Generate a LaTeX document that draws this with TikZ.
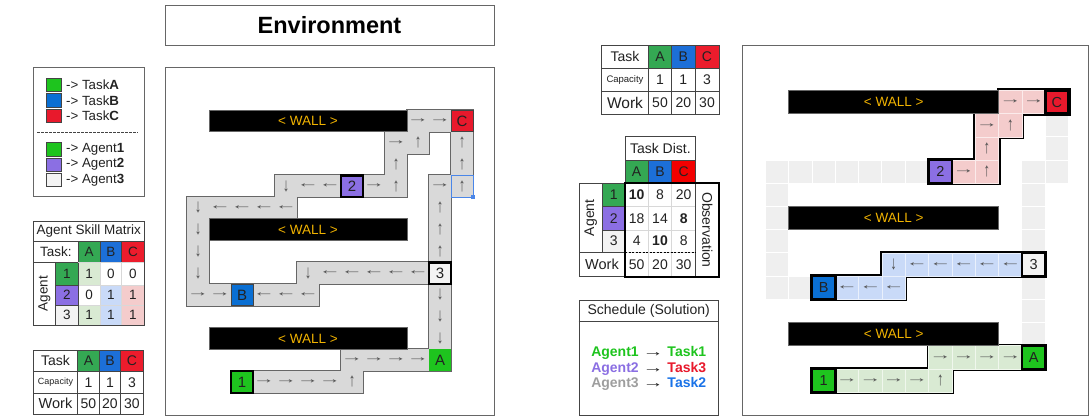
\documentclass[tikz,border=0pt]{standalone}
\usepackage{fontspec}
\usepackage{graphicx}
\setmainfont{Liberation Sans}
\definecolor{txt}{HTML}{222222}
\definecolor{bord}{HTML}{666666}
\definecolor{tline}{HTML}{444444}
\definecolor{lline}{HTML}{D8D8D8}
\definecolor{tA}{HTML}{1EC41E}
\definecolor{tB}{HTML}{0A6FD3}
\definecolor{tC}{HTML}{E8192C}
\definecolor{agP}{HTML}{8B6FE3}
\definecolor{agW}{HTML}{F3F3F3}
\definecolor{hA}{HTML}{34A853}
\definecolor{hB}{HTML}{1C6FD8}
\definecolor{hC}{HTML}{EC1C2C}
\definecolor{lg}{HTML}{D9EAD3}
\definecolor{lb}{HTML}{C9DAF8}
\definecolor{lp}{HTML}{F4CCCC}
\definecolor{pathg}{HTML}{D9D9D9}
\definecolor{pathedge}{HTML}{666666}
\definecolor{freeg}{HTML}{EFEFEF}
\definecolor{wallt}{HTML}{F1B300}
\definecolor{arr}{HTML}{505050}
\definecolor{selb}{HTML}{4A86E8}
\definecolor{schG}{HTML}{9E9E9E}
\definecolor{schB}{HTML}{1A73E8}
\newcommand\fsz[1]{\fontsize{#1}{#1}\selectfont}
\newcommand\aR{\scalebox{1.7}[1]{→}}
\newcommand\aL{\scalebox{1.7}[1]{←}}
\newcommand\aU{\scalebox{1}[1.45]{↑}}
\newcommand\aD{\scalebox{1}[1.45]{↓}}
\newcommand\tcell[8]{%
  \filldraw[draw=tline,fill=white,line width=0.7pt,#6] (#2,#3) rectangle (#4,#5);
  \node[tnode,#7] (#1) at ({(#2+#4)/2},{(#3+#5)/2}) {#8};}
\def\Lcells{11/0,12/0,13/0,10/1,11/1,13/1,10/2,13/2,5/3,6/3,7/3,8/3,9/3,10/3,12/3,13/3,1/4,2/4,3/4,4/4,5/4,12/4,1/5,12/5,1/6,12/6,1/7,6/7,7/7,8/7,9/7,10/7,11/7,12/7,1/8,2/8,3/8,4/8,5/8,6/8,12/8,12/9,12/10,8/11,9/11,10/11,11/11,12/11,3/12,4/12,5/12,6/12,7/12,8/12}
\def\Larrows{11/0/\aR,12/0/\aR,10/1/\aR,11/1/\aU,13/1/\aU,10/2/\aU,13/2/\aU,5/3/\aD,6/3/\aL,7/3/\aL,9/3/\aR,10/3/\aU,12/3/\aR,13/3/\aU,1/4/\aD,2/4/\aL,3/4/\aL,4/4/\aL,5/4/\aL,12/4/\aU,1/5/\aD,12/5/\aU,1/6/\aD,12/6/\aU,1/7/\aD,6/7/\aD,7/7/\aL,8/7/\aL,9/7/\aL,10/7/\aL,11/7/\aL,1/8/\aR,2/8/\aR,4/8/\aL,5/8/\aL,6/8/\aL,12/8/\aD,12/9/\aD,12/10/\aD,8/11/\aR,9/11/\aR,10/11/\aR,11/11/\aR,4/12/\aR,5/12/\aR,6/12/\aR,7/12/\aR,8/12/\aU}
\def\Rfree{13/1,13/2,1/3,2/3,3/3,4/3,5/3,6/3,7/3,12/3,13/3,1/4,12/4,1/5,12/5,1/6,12/6,1/7,1/8,2/8,12/8,12/9,12/10}
\def\Rpink{11/0,12/0,13/0,10/1,11/1,10/2,8/3,9/3,10/3}
\def\Rblue{6/7,7/7,8/7,9/7,10/7,11/7,12/7,3/8,4/8,5/8,6/8}
\def\Rgreen{8/11,9/11,10/11,11/11,12/11,3/12,4/12,5/12,6/12,7/12,8/12}
\def\Rarrows{11/0/\aR,12/0/\aR,10/1/\aR,11/1/\aU,10/2/\aU,9/3/\aR,10/3/\aU,6/7/\aD,7/7/\aL,8/7/\aL,9/7/\aL,10/7/\aL,11/7/\aL,4/8/\aL,5/8/\aL,6/8/\aL,8/11/\aR,9/11/\aR,10/11/\aR,11/11/\aR,4/12/\aR,5/12/\aR,6/12/\aR,7/12/\aR,8/12/\aU}
\begin{document}
\begin{tikzpicture}[x=1pt,y=-1pt,
  tnode/.style={inner sep=0pt,font=\fsz{13.5},text=txt},
  arrowglyph/.style={inner sep=0pt,font=\fsz{13},text=arr},
  lspec/.style={minimum width=22pt,minimum height=21.75pt,inner sep=0pt,font=\fsz{15},text=txt},
  rspec/.style={minimum width=23.33pt,minimum height=23.2pt,inner sep=0pt,font=\fsz{14.5},text=txt,draw=black,line width=2.5pt},
  lwall/.style={fill=black,draw=bord,line width=0.6pt,text=wallt,font=\fsz{13.5},minimum width=198pt,minimum height=21.75pt,inner sep=0pt},
  rwall/.style={fill=black,draw=bord,line width=0.6pt,text=wallt,font=\fsz{13.5},minimum width=210pt,minimum height=23.2pt,inner sep=0pt},
  legsq/.style={draw=tline,line width=0.6pt,minimum width=15pt,minimum height=13.5pt,inner sep=0pt},
  legtx/.style={anchor=west,inner sep=0pt,font=\fsz{13.3},text=txt}]
\useasboundingbox (0,0) rectangle (1091,417);
\fill[white] (0,0) rectangle (1091,417);

% ---------- title ----------
\node[draw=bord,line width=0.8pt,minimum width=329pt,minimum height=40pt,inner sep=0pt,font=\fsz{23.5}\bfseries,text=black] (title) at (329.5,25) {Environment};

% ---------- legend ----------
\node[draw=bord,line width=0.8pt,minimum width=111pt,minimum height=129pt,inner sep=0pt] (legend) at (88.5,131.5) {};
\node[legsq,fill=tA] (lgA) at (53.5,85) {};
\node[legtx] (lgAt) at (66,85) {-> Task\textbf{A}};
\node[legsq,fill=tB] (lgB) at (53.5,100.5) {};
\node[legtx] (lgBt) at (66,100.5) {-> Task\textbf{B}};
\node[legsq,fill=tC] (lgC) at (53.5,116) {};
\node[legtx] (lgCt) at (66,116) {-> Task\textbf{C}};
\draw[tline,line width=0.8pt,dash pattern=on 2.5pt off 1.5pt] (37,132.7) -- (138,132.7);
\node[legsq,fill=tA] (lg1) at (53.5,149.3) {};
\node[legtx] (lg1t) at (66,149.3) {-> Agent\textbf{1}};
\node[legsq,fill=agP] (lg2) at (53.5,164.6) {};
\node[legtx] (lg2t) at (66,164.6) {-> Agent\textbf{2}};
\node[legsq,fill=agW] (lg3) at (53.5,180) {};
\node[legtx] (lg3t) at (66,180) {-> Agent\textbf{3}};

% ---------- agent skill matrix ----------
\tcell{smT}{33.3}{221.7}{144.3}{241}{}{}{Agent Skill Matrix}
\tcell{smTask}{33.3}{241}{78.3}{262.7}{}{}{Task:}
\tcell{smA}{78.3}{241}{100}{262.7}{fill=hA}{}{A}
\tcell{smB}{100}{241}{121.7}{262.7}{fill=hB}{}{B}
\tcell{smC}{121.7}{241}{144.3}{262.7}{fill=hC}{}{C}
\tcell{smAg}{33.3}{262.7}{55.7}{325}{}{rotate=90}{Agent}
\tcell{sm1}{55.7}{262.7}{78.3}{285}{fill=hA}{}{1}
\tcell{sm2}{55.7}{285}{78.3}{305}{fill=agP}{}{2}
\tcell{sm3}{55.7}{305}{78.3}{325}{fill=agW}{}{3}
\tcell{sm1A}{78.3}{262.7}{100}{285}{fill=lg,draw=lline}{}{1}
\tcell{sm1B}{100}{262.7}{121.7}{285}{draw=lline}{}{0}
\tcell{sm1C}{121.7}{262.7}{144.3}{285}{draw=lline}{}{0}
\tcell{sm2A}{78.3}{285}{100}{305}{draw=lline}{}{0}
\tcell{sm2B}{100}{285}{121.7}{305}{fill=lb,draw=lline}{}{1}
\tcell{sm2C}{121.7}{285}{144.3}{305}{fill=lp,draw=lline}{}{1}
\tcell{sm3A}{78.3}{305}{100}{325}{fill=lg,draw=lline}{}{1}
\tcell{sm3B}{100}{305}{121.7}{325}{fill=lb,draw=lline}{}{1}
\tcell{sm3C}{121.7}{305}{144.3}{325}{fill=lp,draw=lline}{}{1}
\draw[tline,line width=0.7pt] (78.3,262.7) -- (78.3,325);
\draw[tline,line width=0.7pt] (33.3,221.7) rectangle (144.3,325);

% ---------- left task table ----------
\tcell{ltT}{33.3}{350}{77.7}{371.7}{}{font=\fsz{14}}{Task}
\tcell{ltA}{77.7}{350}{99.3}{371.7}{fill=hA}{font=\fsz{14}}{A}
\tcell{ltB}{99.3}{350}{120.7}{371.7}{fill=hB}{font=\fsz{14}}{B}
\tcell{ltC}{120.7}{350}{143.3}{371.7}{fill=hC}{font=\fsz{14}}{C}
\tcell{ltCap}{33.3}{371.7}{77.7}{393.3}{}{font=\fsz{9}}{Capacity}
\tcell{ltCa}{77.7}{371.7}{99.3}{393.3}{}{font=\fsz{14}}{1}
\tcell{ltCb}{99.3}{371.7}{120.7}{393.3}{}{font=\fsz{14}}{1}
\tcell{ltCc}{120.7}{371.7}{143.3}{393.3}{}{font=\fsz{14}}{3}
\tcell{ltW}{33.3}{393.3}{77.7}{414}{}{font=\fsz{14.5}}{Work}
\tcell{ltWa}{77.7}{393.3}{99.3}{414}{}{font=\fsz{14}}{50}
\tcell{ltWb}{99.3}{393.3}{120.7}{414}{}{font=\fsz{14}}{20}
\tcell{ltWc}{120.7}{393.3}{143.3}{414}{}{font=\fsz{14}}{30}

% ---------- right task table ----------
\tcell{rtT}{601.7}{45}{648.3}{68.3}{}{font=\fsz{14}}{Task}
\tcell{rtA}{648.3}{45}{671.7}{68.3}{fill=hA}{font=\fsz{14}}{A}
\tcell{rtB}{671.7}{45}{695}{68.3}{fill=hB}{font=\fsz{14}}{B}
\tcell{rtC}{695}{45}{719}{68.3}{fill=hC}{font=\fsz{14}}{C}
\tcell{rtCap}{601.7}{68.3}{648.3}{91}{}{font=\fsz{9.5}}{Capacity}
\tcell{rtCa}{648.3}{68.3}{671.7}{91}{}{font=\fsz{14}}{1}
\tcell{rtCb}{671.7}{68.3}{695}{91}{}{font=\fsz{14}}{1}
\tcell{rtCc}{695}{68.3}{719}{91}{}{font=\fsz{14}}{3}
\tcell{rtW}{601.7}{91}{648.3}{114}{}{font=\fsz{15.5}}{Work}
\tcell{rtWa}{648.3}{91}{671.7}{114}{}{font=\fsz{14}}{50}
\tcell{rtWb}{671.7}{91}{695}{114}{}{font=\fsz{14}}{20}
\tcell{rtWc}{695}{91}{719}{114}{}{font=\fsz{14}}{30}

% ---------- task distribution ----------
\tcell{tdT}{625}{136.7}{695.7}{160.7}{}{font=\fsz{14}}{Task Dist.}
\tcell{tdA}{625}{160.7}{648.3}{183.3}{fill=hA}{font=\fsz{14}}{A}
\tcell{tdB}{648.3}{160.7}{671.7}{183.3}{fill=hB}{font=\fsz{14}}{B}
\tcell{tdC}{671.7}{160.7}{695.7}{183.3}{fill=red!95!black}{font=\fsz{14}}{C}
\tcell{tdAg}{579}{183.3}{602.3}{252.3}{}{rotate=90,font=\fsz{14}}{Agent}
\tcell{td1}{602.3}{183.3}{625}{206.7}{fill=hA}{font=\fsz{14}}{1}
\tcell{td2}{602.3}{206.7}{625}{230}{fill=agP}{font=\fsz{14}}{2}
\tcell{td3}{602.3}{230}{625}{252.3}{fill=agW}{font=\fsz{14}}{3}
\tcell{tdW}{579}{252.3}{625}{276.7}{}{font=\fsz{14.5}}{Work}
\tcell{td1A}{625}{183.3}{648.3}{206.7}{draw=lline}{font=\fsz{14}}{\textbf{10}}
\tcell{td1B}{648.3}{183.3}{671.7}{206.7}{draw=lline}{font=\fsz{14}}{8}
\tcell{td1C}{671.7}{183.3}{695.7}{206.7}{draw=lline}{font=\fsz{14}}{20}
\tcell{td2A}{625}{206.7}{648.3}{230}{draw=lline}{font=\fsz{14}}{18}
\tcell{td2B}{648.3}{206.7}{671.7}{230}{draw=lline}{font=\fsz{14}}{14}
\tcell{td2C}{671.7}{206.7}{695.7}{230}{draw=lline}{font=\fsz{14}}{\textbf{8}}
\tcell{td3A}{625}{230}{648.3}{252.3}{draw=lline}{font=\fsz{14}}{4}
\tcell{td3B}{648.3}{230}{671.7}{252.3}{draw=lline}{font=\fsz{14}}{\textbf{10}}
\tcell{td3C}{671.7}{230}{695.7}{252.3}{draw=lline}{font=\fsz{14}}{8}
\tcell{tdWA}{625}{252.3}{648.3}{276.7}{draw=lline}{font=\fsz{14}}{50}
\tcell{tdWB}{648.3}{252.3}{671.7}{276.7}{draw=lline}{font=\fsz{14}}{20}
\tcell{tdWC}{671.7}{252.3}{695.7}{276.7}{draw=lline}{font=\fsz{14}}{30}
\tcell{tdObs}{695.7}{183.3}{719}{276.7}{}{rotate=-90,font=\fsz{14}}{Observation}
\draw[black,line width=0.7pt,dash pattern=on 2pt off 1.5pt] (625,252.3) -- (695.7,252.3);
\draw[tline,line width=0.7pt] (579,183.3) rectangle (719,276.7);
\draw[black,line width=2.2pt] (625,183.3) rectangle (719,276.7);

% ---------- schedule ----------
\node[draw=tline,line width=0.8pt,minimum width=139.3pt,minimum height=115.7pt,inner sep=0pt] (sched) at (648.65,357.85) {};
\draw[tline,line width=0.8pt] (sched.west |- 0,321.7) -- (sched.east |- 0,321.7);
\node[tnode,font=\fsz{14}] (schT) at (648.7,311) {Schedule (Solution)};
\node[tnode,font=\fsz{14}] (sch1) at (648.7,353.3) {\textbf{\textcolor{tA}{Agent1}} \scalebox{1.5}[1]{→} \textbf{\textcolor{tA}{Task1}}};
\node[tnode,font=\fsz{14}] (sch2) at (648.7,369) {\textbf{\textcolor{agP}{Agent2}} \scalebox{1.5}[1]{→} \textbf{\textcolor{tC}{Task3}}};
\node[tnode,font=\fsz{14}] (sch3) at (648.7,384.3) {\textbf{\textcolor{schG}{Agent3}} \scalebox{1.5}[1]{→} \textbf{\textcolor{schB}{Task2}}};

% ---------- left environment ----------
\node[draw=bord,line width=0.8pt,minimum width=329pt,minimum height=348pt,inner sep=0pt] (envL) at (329.5,241) {};
\begin{scope}[xshift=165pt,yshift=-110pt,x=22pt,y=-21.75pt]
\foreach \cc/\rr in \Lcells {\draw[pathedge,line width=2pt] (\cc,\rr) rectangle ++(1,1);}
\foreach \cc/\rr in \Lcells {\fill[pathg] (\cc,\rr) rectangle ++(1,1);}
\node[lspec,fill=tC,draw=tline,line width=0.8pt] (LC) at (13.5,0.5) {C};
\node[lspec,fill=agP,draw=black,line width=2.5pt] (L2) at (8.5,3.5) {2};
\node[lspec,fill=agW,draw=black,line width=2.5pt] (L3) at (12.5,7.5) {3};
\node[lspec,fill=tB,draw=tline,line width=0.8pt] (LB) at (3.5,8.5) {B};
\node[lspec,fill=tA] (LA) at (12.5,11.5) {A};
\node[lspec,fill=tA,draw=black,line width=2.5pt] (L1) at (3.5,12.5) {1};
\draw[selb,line width=0.8pt] (13,3) rectangle (14,4);
\fill[selb] (14,4) ++(-2pt,-2pt) rectangle ++(4pt,4pt);
\foreach \cc/\rr/\g in \Larrows {\node[arrowglyph] (La\cc-\rr) at (\cc+0.5,\rr+0.5) {\g};}
\node[lwall] (LW1) at (6.5,0.5) {< WALL >};
\node[lwall] (LW2) at (6.5,5.5) {< WALL >};
\node[lwall] (LW3) at (6.5,10.5) {< WALL >};
\end{scope}

% ---------- right environment ----------
\node[draw=bord,line width=0.8pt,minimum width=346pt,minimum height=370pt,inner sep=0pt] (envR) at (915,230) {};
\begin{scope}[xshift=742pt,yshift=-90.5pt,x=23.33pt,y=-23.2pt]
\foreach \cc/\rr in \Rfree {\filldraw[fill=freeg,draw=white,line width=1pt] (\cc,\rr) rectangle ++(1,1);}
\foreach \cc/\rr in \Rpink {\draw[black,line width=4pt] (\cc,\rr) rectangle ++(1,1);}
\foreach \cc/\rr in \Rblue {\draw[black,line width=4pt] (\cc,\rr) rectangle ++(1,1);}
\foreach \cc/\rr in \Rgreen {\draw[black,line width=4pt] (\cc,\rr) rectangle ++(1,1);}
\foreach \cc/\rr in \Rpink {\filldraw[fill=lp,draw=white!60!lp,line width=0.7pt] (\cc,\rr) rectangle ++(1,1);}
\foreach \cc/\rr in \Rblue {\filldraw[fill=lb,draw=white!60!lb,line width=0.7pt] (\cc,\rr) rectangle ++(1,1);}
\foreach \cc/\rr in \Rgreen {\filldraw[fill=lg,draw=white!60!lg,line width=0.7pt] (\cc,\rr) rectangle ++(1,1);}
\node[rspec,fill=tC] (RC) at (13.5,0.5) {C};
\node[rspec,fill=agP] (R2) at (8.5,3.5) {2};
\node[rspec,fill=agW] (R3) at (12.5,7.5) {3};
\node[rspec,fill=tB] (RB) at (3.5,8.5) {B};
\node[rspec,fill=tA] (RA) at (12.5,11.5) {A};
\node[rspec,fill=tA] (R1) at (3.5,12.5) {1};
\foreach \cc/\rr/\g in \Rarrows {\node[arrowglyph] (Ra\cc-\rr) at (\cc+0.5,\rr+0.5) {\g};}
\node[rwall] (RW1) at (6.5,0.5) {< WALL >};
\node[rwall] (RW2) at (6.5,5.5) {< WALL >};
\node[rwall] (RW3) at (6.5,10.5) {< WALL >};
\end{scope}
\end{tikzpicture}
\end{document}
